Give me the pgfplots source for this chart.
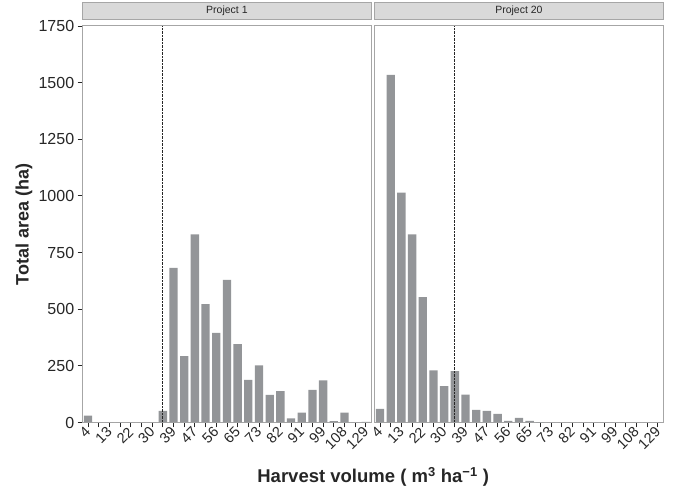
\documentclass[border=0pt]{standalone}
\usepackage{fontspec}
\setmainfont{Liberation Sans}
\usepackage{pgfplots}
\usepackage{pgfplotstable}
\pgfplotsset{compat=1.18}

\definecolor{barg}{HTML}{939598}
\definecolor{frameg}{HTML}{A6A6A6}
\definecolor{stripg}{HTML}{D9D9D9}
\definecolor{ink}{HTML}{262626}

% bin index (0..26) and total area (ha)
\pgfplotstableread{
x y
0 30
1 0
2 0
3 0
4 0
5 0
6 0
7 51
8 682
9 293
10 830
11 522
12 396
13 630
14 346
15 188
16 252
17 122
18 138
19 18
20 44
21 144
22 186
23 6
24 44
25 0
26 3
}\projone

\pgfplotstableread{
x y
0 60
1 1534
2 1015
3 830
4 553
5 230
6 160
7 227
8 123
9 56
10 51
11 38
12 7
13 20
14 7
15 2
16 1
17 1
18 1
19 1
20 1
21 1
22 1
23 1
24 1
25 1
26 1
}\projtwenty

\pgfplotsset{panel/.style={
    scale only axis, width=288.5pt, height=396.5pt,
    anchor=south west,
    xmin=-0.5, xmax=26.5, ymin=0, ymax=1750,
    axis line style={frameg, line width=1pt},
    xtick={0,...,26},
    xticklabels={4,,13,,22,,30,,39,,47,,56,,65,,73,,82,,91,,99,,108,,129},
    xtick pos=bottom, ytick pos=left,
    tick align=outside, major tick length=5pt,
    tick style={ink, line width=0.9pt},
    x tick label style={rotate=45, anchor=east, font=\fontsize{14.5}{14.5}\selectfont, text=ink, inner sep=1.5pt, yshift=-1.5pt},
    y tick label style={font=\fontsize{16}{16}\selectfont, text=ink},
    title style={at={(0.5,1)}, anchor=south, yshift=0pt, fill=stripg, draw=frameg, line width=1pt,
        minimum width=288.5pt, minimum height=17pt, inner sep=0pt,
        font=\fontsize{10.5}{12}\selectfont, text=ink},
    /pgf/number format/assume math mode=true,
    /pgf/number format/1000 sep={},
}}

\begin{document}
\begin{tikzpicture}
\useasboundingbox (-82.7pt,-66.5pt) rectangle (594.3pt,422.5pt);

\begin{axis}[panel, at={(0pt,0pt)},
    title={Project 1},
    ytick={0,250,...,1750},
    ylabel={\textbf{Total area (ha)}},
    ylabel style={at={(axis description cs:-0.2035,0.5)}, anchor=center, font=\fontsize{18}{18}\selectfont, text=ink},
    xlabel={\textbf{Harvest volume ( m\textsuperscript{3} ha\textsuperscript{−1} )}},
    xlabel style={at={(axis description cs:1.007,-0.1375)}, anchor=center, font=\fontsize{18.5}{18.5}\selectfont, text=ink},
]
\addplot[ybar, bar width=0.78, fill=barg, draw=none] table[x=x, y=y] {\projone};
\addplot[ink, line width=1.3pt, dash pattern=on 2.5pt off 1pt] coordinates {(7,0) (7,1750)};
\end{axis}

\begin{axis}[panel, at={(292pt,0pt)},
    title={Project 20},
    ytick=\empty,
]
\addplot[ybar, bar width=0.78, fill=barg, draw=none] table[x=x, y=y] {\projtwenty};
\addplot[ink, line width=1.3pt, dash pattern=on 2.5pt off 1pt] coordinates {(7,0) (7,1750)};
\end{axis}
\end{tikzpicture}
\end{document}
